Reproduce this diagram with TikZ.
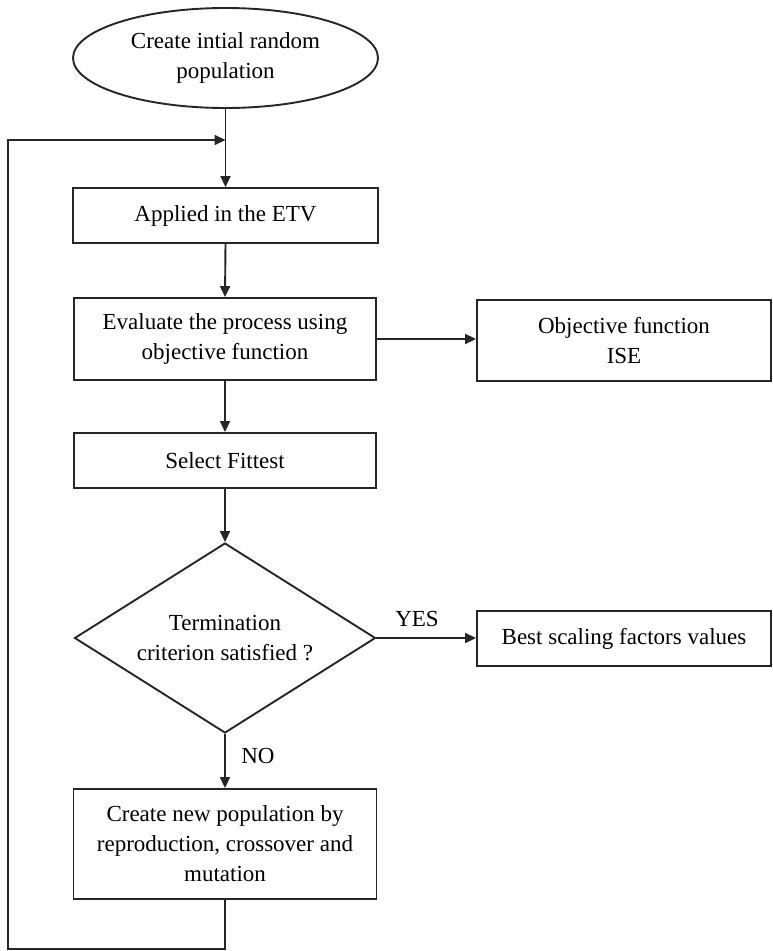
\documentclass[tikz,border=0pt]{standalone}
\usepackage{fontspec}
\setmainfont{Liberation Serif}
\usetikzlibrary{shapes.geometric,arrows.meta}
\begin{document}
\begin{tikzpicture}[x=1pt,y=-1pt,
  every node/.style={font=\fontsize{23}{30}\selectfont, text=black},
  proc/.style={draw=black!85, line width=1.9pt, rectangle, inner sep=0pt, align=center},
  term/.style={draw=black!85, line width=1.9pt, ellipse, inner sep=0pt, align=center,
    minimum width=305pt, minimum height=100pt},
  dec/.style={draw=black!85, line width=1.9pt, diamond, aspect=1.58, inner sep=0pt, align=center,
    minimum width=301pt, minimum height=190pt},
  conn/.style={draw=black!85, line width=1.9pt},
  arr/.style={conn, -{Triangle[length=11pt,width=10pt]}},
  lbl/.style={inner sep=0pt}]
\path[use as bounding box] (0,0) rectangle (773,951);

\node[term] (start) at (225.5,58) {Create intial random\\population};
\coordinate (join) at (225.5,140);
\node[proc, minimum width=305pt, minimum height=55pt] (apply) at (225.5,215.5) {Applied in the ETV};
\node[proc, minimum width=302pt, minimum height=82pt] (eval) at (225,339) {Evaluate the process using\\objective function};
\node[proc, minimum width=294pt, minimum height=81pt] (obj) at (624,340.5) {Objective function\\ISE};
\node[proc, minimum width=302pt, minimum height=55pt] (sel) at (225,460.5) {Select Fittest};
\node[dec] (dec) at (225,638) {Termination\\criterion satisfied ?};
\node[proc, minimum width=294pt, minimum height=55pt] (best) at (624,638.5) {Best scaling factors values};
\node[proc, minimum width=303pt, minimum height=110pt] (new) at (225,844) {Create new population by\\reproduction, crossover and\\mutation};
\coordinate (b1) at (225,949);
\coordinate (b2) at (8,949);
\coordinate (b3) at (8,140);

\draw[conn] (start.south) -- (join);
\draw[arr] (join) -- (apply.north);
\draw[arr] (apply.south) -- (eval.north);
\draw[arr] (eval.east) -- (eval.east -| obj.west);
\draw[arr] (eval.south) -- (sel.north);
\draw[arr] (sel.south) -- (dec.north);
\draw[arr] (dec.east) -- (dec.east -| best.west);
\draw[arr] (dec.south) -- (new.north);
\draw[arr] (new.south) -- (b1) -- (b2) -- (b3) -- (join);

\node[lbl] (yes) at (417,619) {YES};
\node[lbl] (no) at (258,756) {NO};
\end{tikzpicture}
\end{document}
